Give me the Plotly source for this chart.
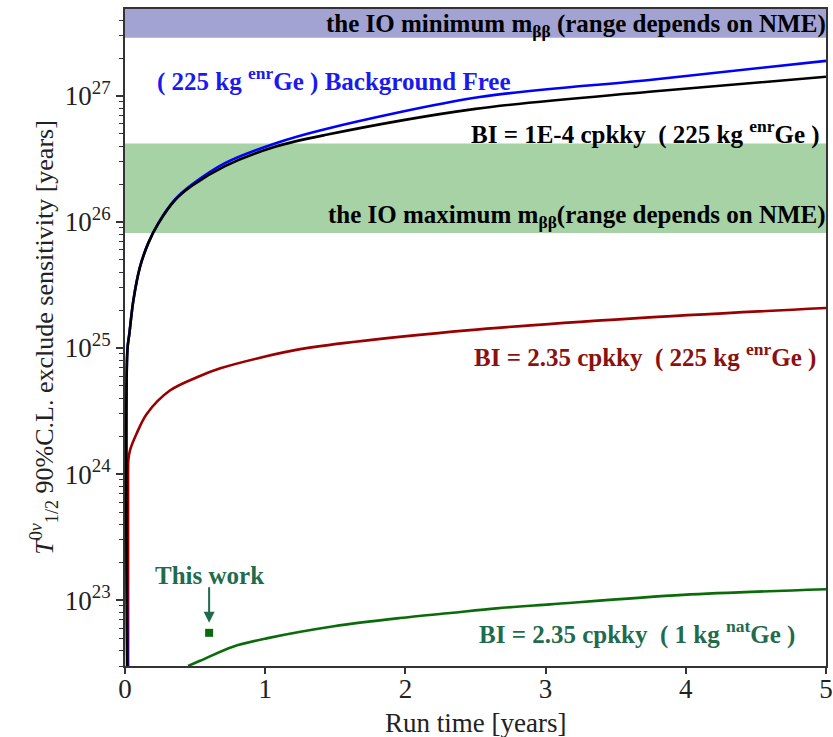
import math
import plotly.graph_objects as go

# ---------------- data ----------------
bf_x = [0.017, 0.017, 0.031, 0.06, 0.107, 0.166, 0.2375, 0.357, 0.475, 0.713, 1.07, 1.426, 2.53, 3.74, 5.0]
bf_y = [3.0e22, 9.6e24, 1.3e25, 2.4e25, 4.4e25, 6.8e25, 9.8e25, 1.51e26, 1.97e26, 2.93e26, 4.2e26, 5.45e26, 9.8e26, 1.34e27, 1.9e27]

bi4_x = [0.015, 0.017, 0.031, 0.06, 0.107, 0.166, 0.2375, 0.357, 0.475, 0.713, 1.07, 1.426, 2.5, 3.74, 5.0]
bi4_y = [3.0e22, 9.6e24, 1.3e25, 2.4e25, 4.4e25, 6.8e25, 9.7e25, 1.49e26, 1.93e26, 2.78e26, 3.96e26, 4.9e26, 7.9e26, 1.08e27, 1.42e27]

red_x = [0.022, 0.022, 0.024, 0.036, 0.083, 0.155, 0.32, 0.535, 0.68, 0.95, 1.25, 2.44, 3.63, 5.0]
red_y = [3.0e22, 1.0e24, 1.3e24, 1.55e24, 2.1e24, 3.0e24, 4.6e24, 6.0e24, 6.9e24, 8.3e24, 9.8e24, 1.38e25, 1.72e25, 2.08e25]

grn_x = [0.45, 0.535, 0.77, 1.01, 1.49, 1.96, 2.32, 2.65, 3.03, 3.98, 5.0]
grn_y = [3.0e22, 3.3e22, 4.27e22, 4.97e22, 6.2e22, 7.2e22, 7.9e22, 8.6e22, 9.25e22, 1.1e23, 1.22e23]

this_work_x = [0.6]
this_work_y = [5.5e22]

io_min_band = [2.9e27, 4.9e27]
io_max_band = [8.2e25, 4.2e26]

x_range = [0, 5]
y_range = [3.0e22, 4.9e27]
x_ticks = [0, 1, 2, 3, 4, 5]
y_exps = [23, 24, 25, 26, 27]

# ---------------- figure ----------------
FONT = "Liberation Serif"
TEAL = "#1f6b4e"
L = math.log10

fig = go.Figure()

# bands as filled traces
for band, col in [(io_min_band, "#a3a3d3"), (io_max_band, "#a6d2a6")]:
    fig.add_trace(go.Scatter(
        x=[x_range[0], x_range[1], x_range[1], x_range[0], x_range[0]],
        y=[band[0], band[0], band[1], band[1], band[0]],
        mode="lines", fill="toself", fillcolor=col, line=dict(width=0),
        hoverinfo="skip"))

def curve(xs, ys, color):
    fig.add_trace(go.Scatter(x=xs, y=ys, mode="lines",
                             line=dict(color=color, width=2.6, shape="spline", smoothing=0.9),
                             hoverinfo="skip"))

curve(red_x, red_y, "#990000")
curve(grn_x, grn_y, "#0b6b0b")
curve(bf_x, bf_y, "#0000ff")
curve(bi4_x, bi4_y, "#000000")

fig.add_trace(go.Scatter(x=this_work_x, y=this_work_y, mode="markers",
                         marker=dict(symbol="square", size=8, color="#0b6b0b"),
                         hoverinfo="skip"))

def ann(text, x, y, color, xanchor, xref="x", size=25):
    fig.add_annotation(x=x, y=y, xref=xref, text=text, showarrow=False, xanchor=xanchor,
                       yanchor="middle",
                       font=dict(family=FONT, size=size, color=color))

ann("<b>the IO minimum m<sub>ββ</sub> (range depends on NME)</b>", 1.003, 27.563, "#000000", "right", "paper")
ann("<b>( 225 kg <sup>enr</sup>Ge ) Background Free</b>", 0.214, 27.127, "#1a1af0", "left")
ann("<b>BI = 1E-4 cpkky  ( 225 kg <sup>enr</sup>Ge )</b>", 0.995, 26.714, "#000000", "right", "paper")
ann("<b>the IO maximum m<sub>ββ</sub>(range depends on NME)</b>", 1.003, 26.04, "#000000", "right", "paper")
ann("<b>BI = 2.35 cpkky  ( 225 kg <sup>enr</sup>Ge )</b>", 0.989, 24.944, "#8b1010", "right", "paper")
ann("<b>This work</b>", 0.606, 23.198, TEAL, "center")
ann("<b>BI = 2.35 cpkky  ( 1 kg <sup>nat</sup>Ge )</b>", 0.958, 22.746, TEAL, "right", "paper")

fig.add_annotation(x=0.6, y=L(this_work_y[0]), ax=0, ay=-47, text="",
                   showarrow=True, arrowhead=2, arrowsize=1.1, arrowwidth=2,
                   arrowcolor=TEAL, standoff=10)

# x-axis title as paper annotation (keeps plot area fixed)
fig.add_annotation(x=0.5, y=-0.087, xref="paper", yref="paper", text="Run time [years]",
                   showarrow=False, xanchor="center", yanchor="middle",
                   font=dict(family=FONT, size=27, color="#222"))

minor_vals = [float(m) * 10.0 ** e for e in range(22, 28) for m in range(2, 10)]

fig.update_xaxes(range=x_range, tickvals=x_ticks, ticktext=[str(v) for v in x_ticks],
                 ticks="outside", ticklen=6, tickwidth=1.5, tickcolor="#333",
                 ticklabelstandoff=-8,
                 showline=True, linecolor="#333", linewidth=2, mirror=True,
                 showgrid=False, zeroline=False, automargin=False,
                 tickfont=dict(family=FONT, size=27, color="#222"))
fig.update_yaxes(type="log", range=[L(y_range[0]), L(y_range[1])],
                 tickvals=[10.0 ** e for e in y_exps],
                 ticktext=["10<sup>%d</sup>" % e for e in y_exps],
                 ticks="outside", ticklen=7, tickwidth=1.5, tickcolor="#333",
                 minor=dict(tickvals=minor_vals, ticks="outside", ticklen=4,
                            tickwidth=1, tickcolor="#333", showgrid=False),
                 showline=True, linecolor="#333", linewidth=2, mirror=True,
                 showgrid=False, zeroline=False, automargin=False,
                 tickfont=dict(family=FONT, size=27, color="#222"),
                 title=dict(text="<i>T</i><sup>0<i>ν</i></sup><sub>1/2</sub> 90%C.L. exclude sensitivity [years]",
                            standoff=4,
                            font=dict(family=FONT, size=26, color="#222")))

fig.update_layout(width=833, height=737, showlegend=False,
                  margin=dict(l=125, r=7, t=9, b=71),
                  paper_bgcolor="white", plot_bgcolor="white")

fig.write_html("out.html")
